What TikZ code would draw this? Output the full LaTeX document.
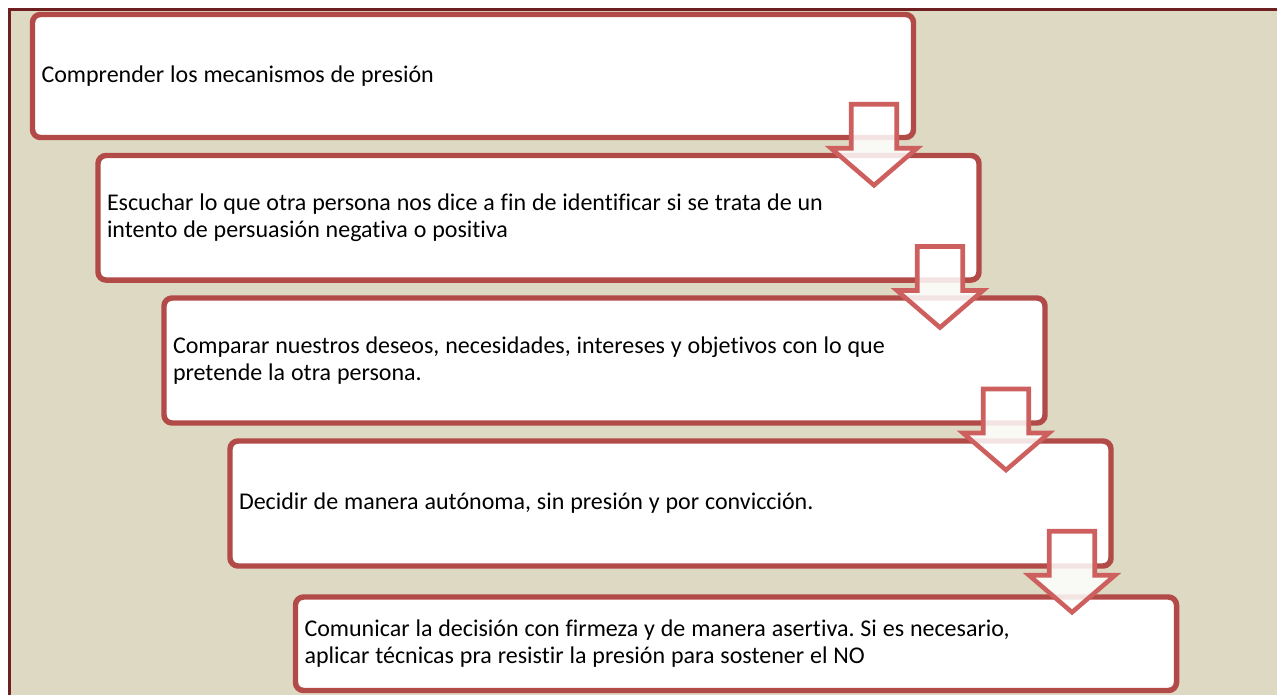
\documentclass[tikz,border=0pt]{standalone}
\usepackage{fontspec}
\setmainfont{Carlito}[RawFeature={-liga;-clig;-calt;-dlig}]
\definecolor{bgtan}{RGB}{221,217,195}
\definecolor{framered}{RGB}{110,32,32}
\definecolor{boxred}{RGB}{178,74,72}
\definecolor{arrred}{RGB}{205,96,94}
\newcommand\tightwordsp{\spaceskip=4.4pt plus 1pt minus 1pt\relax}
\begin{document}
\frenchspacing
\begin{tikzpicture}[x=0.75pt,y=-0.75pt,
  stepbox/.style={draw=boxred, line width=4.1pt, fill=white, rounded corners=6pt,
    anchor=north west, outer sep=0pt, inner xsep=6.75pt, inner ysep=0pt,
    minimum width=660.75pt, text width=647.25pt, align=left,
    font=\fontsize{18}{20.4}\selectfont, execute at begin node=\tightwordsp},
  blockarrow/.style={draw=arrred, line width=3.4pt, fill=white, fill opacity=0.85, line join=miter}]
\useasboundingbox (0,0) rectangle (1277,694);
\fill[bgtan] (9.5,9.5) rectangle (1277,700);
\draw[framered, line width=1.9pt] (9.5,700) -- (9.5,9.5) -- (1277,9.5);

\node[stepbox, minimum height=92.25pt] (b1) at (32.5,14.5) {Comprender los mecanismos de presión};
\node[stepbox, minimum height=93.4pt] (b2) at (98,155.5) {Escuchar lo que otra persona nos dice a fin de identificar si se trata de un\\intento de persuasión negativa o positiva};
\node[stepbox, minimum height=93.75pt] (b3) at (164,298) {Comparar nuestros deseos, necesidades, intereses y objetivos con lo que\\pretende la otra persona.};
\node[stepbox, minimum height=93.75pt] (b4) at (230,441) {Decidir de manera autónoma, sin presión y por convicción.};
\node[stepbox, minimum height=70.1pt] (b5) at (295.5,597) {Comunicar la decisión con firmeza y de manera asertiva. Si es necesario,\\aplicar técnicas pra resistir la presión para sostener el NO};

\foreach \cx/\t in {874/104.25, 940/246.5, 1006/389, 1072/531.25}{
  \draw[blockarrow] ({\cx-22.75},\t) -- ({\cx+22.75},\t) -- ({\cx+22.75},{\t+44}) -- ({\cx+43},{\t+44})
    -- (\cx,{\t+81}) -- ({\cx-43},{\t+44}) -- ({\cx-22.75},{\t+44}) -- cycle;
}
\end{tikzpicture}
\end{document}
